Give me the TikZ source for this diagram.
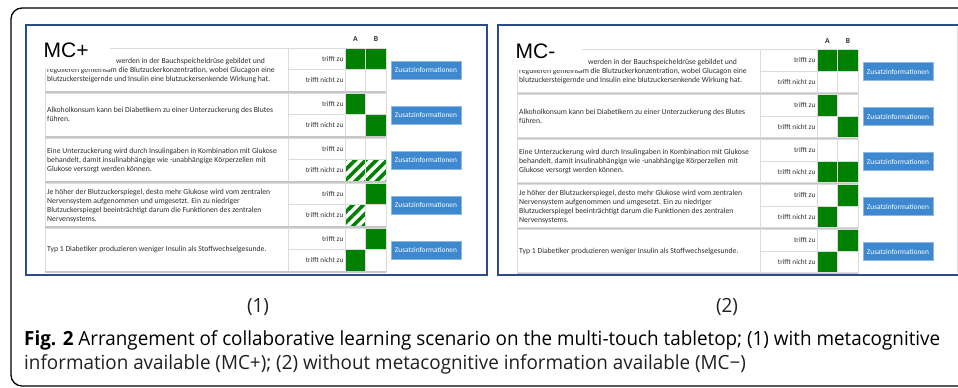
\documentclass[tikz,border=0pt]{standalone}
\usepackage{fontspec}
\usetikzlibrary{patterns.meta}
\setmainfont{Open Sans}
\newfontfamily\uifont{Carlito}
\newfontfamily\labelfont{Liberation Sans}
\newfontfamily\capfont{Open Sans}

\definecolor{okgreen}{HTML}{008000}
\definecolor{btnblue}{HTML}{3D88CF}
\definecolor{btnedge}{HTML}{8DB8E3}
\definecolor{frameblue}{HTML}{2C4C86}
\definecolor{gridgray}{HTML}{DCDCDC}
\definecolor{sepgray}{HTML}{C6C6C6}
\definecolor{txtgray}{HTML}{2E2E2E}
\definecolor{captxt}{HTML}{231F20}

\newsavebox\capfirst
\newcommand\capsize{\capfont\fontsize{19.5}{24}\selectfont}

\tikzset{
  outerframe/.style={draw=black, line width=1.3pt, rounded corners=11pt},
  panelframe/.style={draw=frameblue, line width=1.6pt},
  gridline/.style={draw=gridgray, line width=0.6pt},
  sepband/.style={fill=sepgray},
  cellsolid/.style={fill=okgreen},
  cellhatch/.style={pattern={Lines[angle=45,distance=7.5pt,line width=3.6pt]}, pattern color=okgreen},
  stmt/.style={anchor=west, align=left, inner sep=0pt, text=txtgray,
    font=\uifont\fontsize{7.7}{9}\selectfont},
  answer/.style={anchor=east, inner sep=0pt, text=txtgray,
    font=\uifont\fontsize{7.2}{8}\selectfont},
  infobtn/.style={fill=btnblue, draw=btnedge, line width=0.5pt, minimum width=70pt,
    minimum height=18pt, inner sep=0pt, text=white,
    font=\uifont\fontsize{7.4}{8}\selectfont},
  colhead/.style={inner sep=0pt, text=txtgray, font=\uifont\bfseries\fontsize{7.6}{9}\selectfont},
  labelmask/.style={fill=white},
  mclabel/.style={anchor=base west, inner sep=0pt, text=black,
    font=\labelfont\fontsize{21}{22}\selectfont},
  captext/.style={anchor=base west, inner sep=0pt, text=captxt},
  subcap/.style={inner sep=0pt, text=captxt},
}

% One answer table: #1 node prefix, #2 corner label, #3 filled cells (col/group/row/kind)
\newcommand\answertable[3]{%
  % filled answer cells
  \foreach \c/\g/\s/\k in {#3} {
    \path[cell\k] (345+20.5*\c, 48+45*\g+21.5*\s) rectangle ++(20.5,21.5);
  }
  % grid of every statement group, with the thick separator below it
  \foreach \g in {0,...,4} {
    \draw[gridline] (45,48+45*\g) rectangle (386,91+45*\g);
    \draw[gridline] (288,48+45*\g) -- (288,91+45*\g);
    \draw[gridline] (345,48+45*\g) -- (345,91+45*\g);
    \draw[gridline] (365.5,48+45*\g) -- (365.5,91+45*\g);
    \draw[gridline] (288,69.5+45*\g) -- (386,69.5+45*\g);
    \fill[sepgray] (45,91+45*\g) rectangle (386,93+45*\g);
    \node[answer] (#1-yes-\g) at (343.5,58.75+45*\g) {trifft zu};
    \node[answer] (#1-no-\g) at (343.5,80.25+45*\g) {trifft nicht zu};
    \node[infobtn] (#1-info-\g) at (426,70+45*\g) {Zusatzinformationen};
  }
  % statements
  \node[stmt] (#1-s0) at (47,70) {\hspace*{69pt}werden in der Bauchspeicheldrüse gebildet und\\
    regulieren gemeinsam die Blutzuckerkonzentration, wobei Glucagon eine\\
    blutzuckersteigernde und Insulin eine blutzuckersenkende Wirkung hat.};
  \node[stmt] (#1-s1) at (47,114.5) {Alkoholkonsum kann bei Diabetikern zu einer Unterzuckerung des Blutes\\
    führen.};
  \node[stmt] (#1-s2) at (47,160) {Eine Unterzuckerung wird durch Insulingaben in Kombination mit Glukose\\
    behandelt, damit insulinabhängige wie -unabhängige Körperzellen mit\\
    Glukose versorgt werden können.};
  \node[stmt] (#1-s3) at (47,205.5) {Je höher der Blutzuckerspiegel, desto mehr Glukose wird vom zentralen\\
    Nervensystem aufgenommen und umgesetzt. Ein zu niedriger\\
    Blutzuckerspiegel beeinträchtigt darum die Funktionen des zentralen\\
    Nervensystems.};
  \node[stmt] (#1-s4) at (47,249.5) {Typ 1 Diabetiker produzieren weniger Insulin als Stoffwechselgesunde.};
  % column heads
  \node[colhead] (#1-headA) at (355.5,39.5) {A};
  \node[colhead] (#1-headB) at (376,39.5) {B};
  % corner label on its white patch
  \fill[labelmask] (38,30) rectangle (110,68.8);
  \node[mclabel] (#1-label) at (43.5,57) {#2};
}

\begin{document}
% the caption font is squeezed so that the first line spans the figure width
\sbox\capfirst{\capsize\textbf{Fig. 2} Arrangement of collaborative learning scenario on the multi-touch tabletop; (1) with metacognitive}%
\pgfmathsetmacro\capratio{916/\wd\capfirst}%
\begin{tikzpicture}[x=1pt,y=-1pt]
\useasboundingbox (0,0) rectangle (958,388);
\fill[white] (0,0) rectangle (958,388);

% frame round the whole figure
\draw[outerframe] (11,8) rectangle (990,386);

% panel (1): with metacognitive information
\fill[white] (26,25) rectangle (487,275);
\answertable{L}{MC+}{0/0/0/solid, 1/0/0/solid, 0/1/0/solid, 1/1/1/solid,
  0/2/1/hatch, 1/2/1/hatch, 1/3/0/solid, 0/3/1/hatch, 1/4/0/solid, 0/4/1/solid}
\fill[okgreen] (348,273.5) rectangle (354,275);
\fill[okgreen] (360,273.5) rectangle (386,275);
\draw[panelframe] (26,25) rectangle (487,275);

% panel (2): without metacognitive information
\fill[white] (498,25) rectangle (965,275);
\begin{scope}[shift={(472,1.5)}]
\answertable{R}{MC-}{0/0/0/solid, 1/0/0/solid, 0/1/0/solid, 1/1/1/solid,
  0/2/1/solid, 1/2/1/solid, 1/3/0/solid, 0/3/1/solid, 1/4/0/solid, 0/4/1/solid}
\end{scope}
\draw[gridgray, line width=0.6pt] (957,27) -- (957,273);
\draw[panelframe] (498,25) rectangle (965,275);

% caption
\node[subcap] (sub1) at (258,307) {\scalebox{\capratio}[1]{\capsize (1)}};
\node[subcap] (sub2) at (727,307) {\scalebox{\capratio}[1]{\capsize (2)}};
\node[captext] (cap1) at (24,345) {\scalebox{\capratio}[1]{\usebox\capfirst}};
\node[captext] (cap2) at (24,369) {\scalebox{\capratio}[1]{\capsize information available (MC+); (2) without metacognitive information available (MC−)}};
\end{tikzpicture}
\end{document}
